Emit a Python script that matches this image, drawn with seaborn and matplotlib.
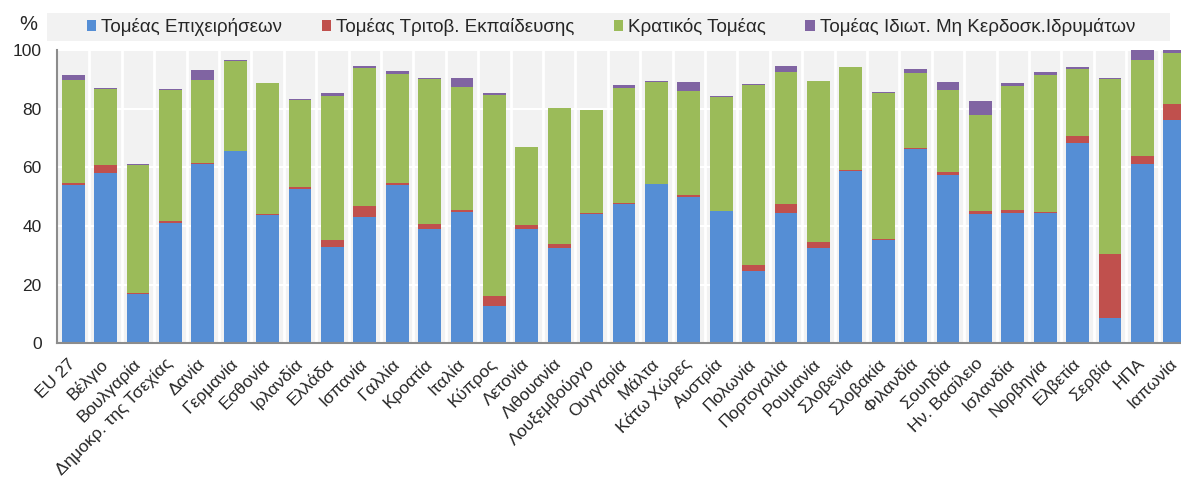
import numpy as np
import pandas as pd
import seaborn as sns
import matplotlib
matplotlib.use('Agg')
import matplotlib.pyplot as plt
import matplotlib.transforms as mtransforms
from matplotlib.patches import Patch, Rectangle

countries = ['EU 27', 'Βέλγιο', 'Βουλγαρία', 'Δημοκρ. της Τσεχίας', 'Δανία', 'Γερμανία',
             'Εσθονία', 'Ιρλανδία', 'Ελλάδα', 'Ισπανία', 'Γαλλία', 'Κροατία', 'Ιταλία',
             'Κύπρος', 'Λετονία', 'Λιθουανία', 'Λουξεμβούργο', 'Ουγγαρία', 'Μάλτα',
             'Κάτω Χώρες', 'Αυστρία', 'Πολωνία', 'Πορτογαλία', 'Ρουμανία', 'Σλοβενία',
             'Σλοβακία', 'Φιλανδία', 'Σουηδία', 'Ην. Βασίλειο', 'Ισλανδία', 'Νορβηγία',
             'Ελβετία', 'Σερβία', 'ΗΠΑ', 'Ιαπωνία']

business = [54.0, 58.0, 16.8, 40.9, 61.2, 65.6, 43.7, 52.5, 32.7, 43.1, 54.0, 39.0, 44.9,
            12.8, 39.0, 32.6, 44.2, 47.6, 54.2, 50.0, 45.0, 24.5, 44.3, 32.4, 58.6,
            35.3, 66.3, 57.5, 44.1, 44.3, 44.3, 68.4, 8.5, 61.2, 76.1]
higher_ed = [0.8, 2.9, 0.5, 0.9, 0.2, 0.1, 0.5, 0.7, 2.5, 3.8, 0.8, 1.8, 0.7,
             3.4, 1.3, 1.4, 0.2, 0.1, 0.1, 0.4, 0.1, 2.2, 3.1, 2.0, 0.4,
             0.4, 0.4, 0.9, 1.1, 1.0, 0.5, 2.3, 21.8, 2.8, 5.6]
government = [35.0, 25.7, 43.5, 44.7, 28.3, 30.6, 44.4, 29.6, 49.2, 47.1, 37.1, 49.4, 41.9,
              68.6, 26.5, 46.2, 35.1, 39.3, 34.9, 35.5, 38.8, 61.4, 45.2, 54.9, 35.2,
              49.6, 25.6, 27.8, 32.5, 42.5, 46.6, 22.8, 59.8, 32.6, 17.3]
nonprofit = [1.6, 0.5, 0.2, 0.1, 3.5, 0.4, 0.3, 0.6, 1.0, 0.4, 0.8, 0.3, 3.1,
             0.4, 0.0, 0.0, 0.1, 1.0, 0.3, 3.3, 0.3, 0.3, 1.9, 0.3, 0.0,
             0.5, 1.3, 3.0, 4.9, 0.8, 1.2, 0.7, 0.3, 3.3, 0.9]

sectors = ['Τομέας Επιχειρήσεων', 'Τομέας Τριτοβ. Εκπαίδευσης', 'Κρατικός Τομέας',
           'Τομέας Ιδιωτ. Μη Κερδοσκ.Ιδρυμάτων']
colors = ['#558ED5', '#C0504D', '#9BBB59', '#8064A2']

df = pd.DataFrame({
    'country': pd.Categorical(countries * 4, categories=countries),
    'sector': np.repeat(sectors, len(countries)),
    'value': business + higher_ed + government + nonprofit,
})

sns.set_style('white')
plt.rcParams['font.family'] = ['Liberation Sans', 'DejaVu Sans']

W, H = 1181, 487
fig = plt.figure(figsize=(W / 100, H / 100), dpi=100)
ax = fig.add_axes([57 / W, 1 - 343.3 / H, 1134 / W, 293.3 / H])

# seaborn stacks the last hue level at the bottom
sns.histplot(data=df, x='country', weights='value', hue='sector',
             hue_order=sectors[::-1], multiple='stack', discrete=True, shrink=0.7,
             palette=dict(zip(sectors, colors)), alpha=1, linewidth=0,
             legend=False, ax=ax)

ax.set_facecolor('#F2F2F2')
ax.set_xlim(-0.5, len(countries) - 0.5)
ax.set_ylim(0, 100)
ax.set_yticks(range(0, 101, 20))
ax.set_xticks(range(len(countries)))
ax.set_xticklabels(countries, rotation=45, ha='right', va='center',
                   rotation_mode='anchor', fontsize=12.5)
shift = mtransforms.ScaledTranslation(-4 / 100, 0, fig.dpi_scale_trans)
for lab in ax.get_xticklabels():
    lab.set_transform(lab.get_transform() + shift)
ax.set_xticks(np.arange(len(countries)) + 0.5, minor=True)
ax.set_xlabel('')
ax.set_ylabel('')
ax.set_axisbelow(True)
ax.yaxis.grid(True, color='white', lw=1.5)
ax.xaxis.grid(True, which='minor', color='white', lw=2)
ax.xaxis.grid(False, which='major')
ax.tick_params(axis='x', which='both', length=0, pad=13)
ax.tick_params(axis='y', direction='in', length=4, color='#8C8C8C', labelsize=12.5, pad=11)
for s in ['top', 'right']:
    ax.spines[s].set_visible(False)
for s in ['left', 'bottom']:
    ax.spines[s].set_color('#8C8C8C')
    ax.spines[s].set_linewidth(1.5)

# legend strip
fig.patches.append(Rectangle((47 / W, 1 - 41 / H), (1170 - 47) / W, 28 / H,
                             transform=fig.transFigure, facecolor='#F2F2F2',
                             edgecolor='none', zorder=0))
handles = [Patch(facecolor=c, edgecolor='none') for c in colors]
fig.legend(handles, sectors, ncol=4, loc='center', bbox_to_anchor=(611 / W, 1 - 27 / H),
           frameon=False, fontsize=13.5, handlelength=0.5, handleheight=0.55,
           handletextpad=0.27, columnspacing=2.1)
fig.text(28.5 / W, 1 - 25 / H, '%', ha='center', va='center', fontsize=14.5)

plt.savefig('out.png', dpi=100)
